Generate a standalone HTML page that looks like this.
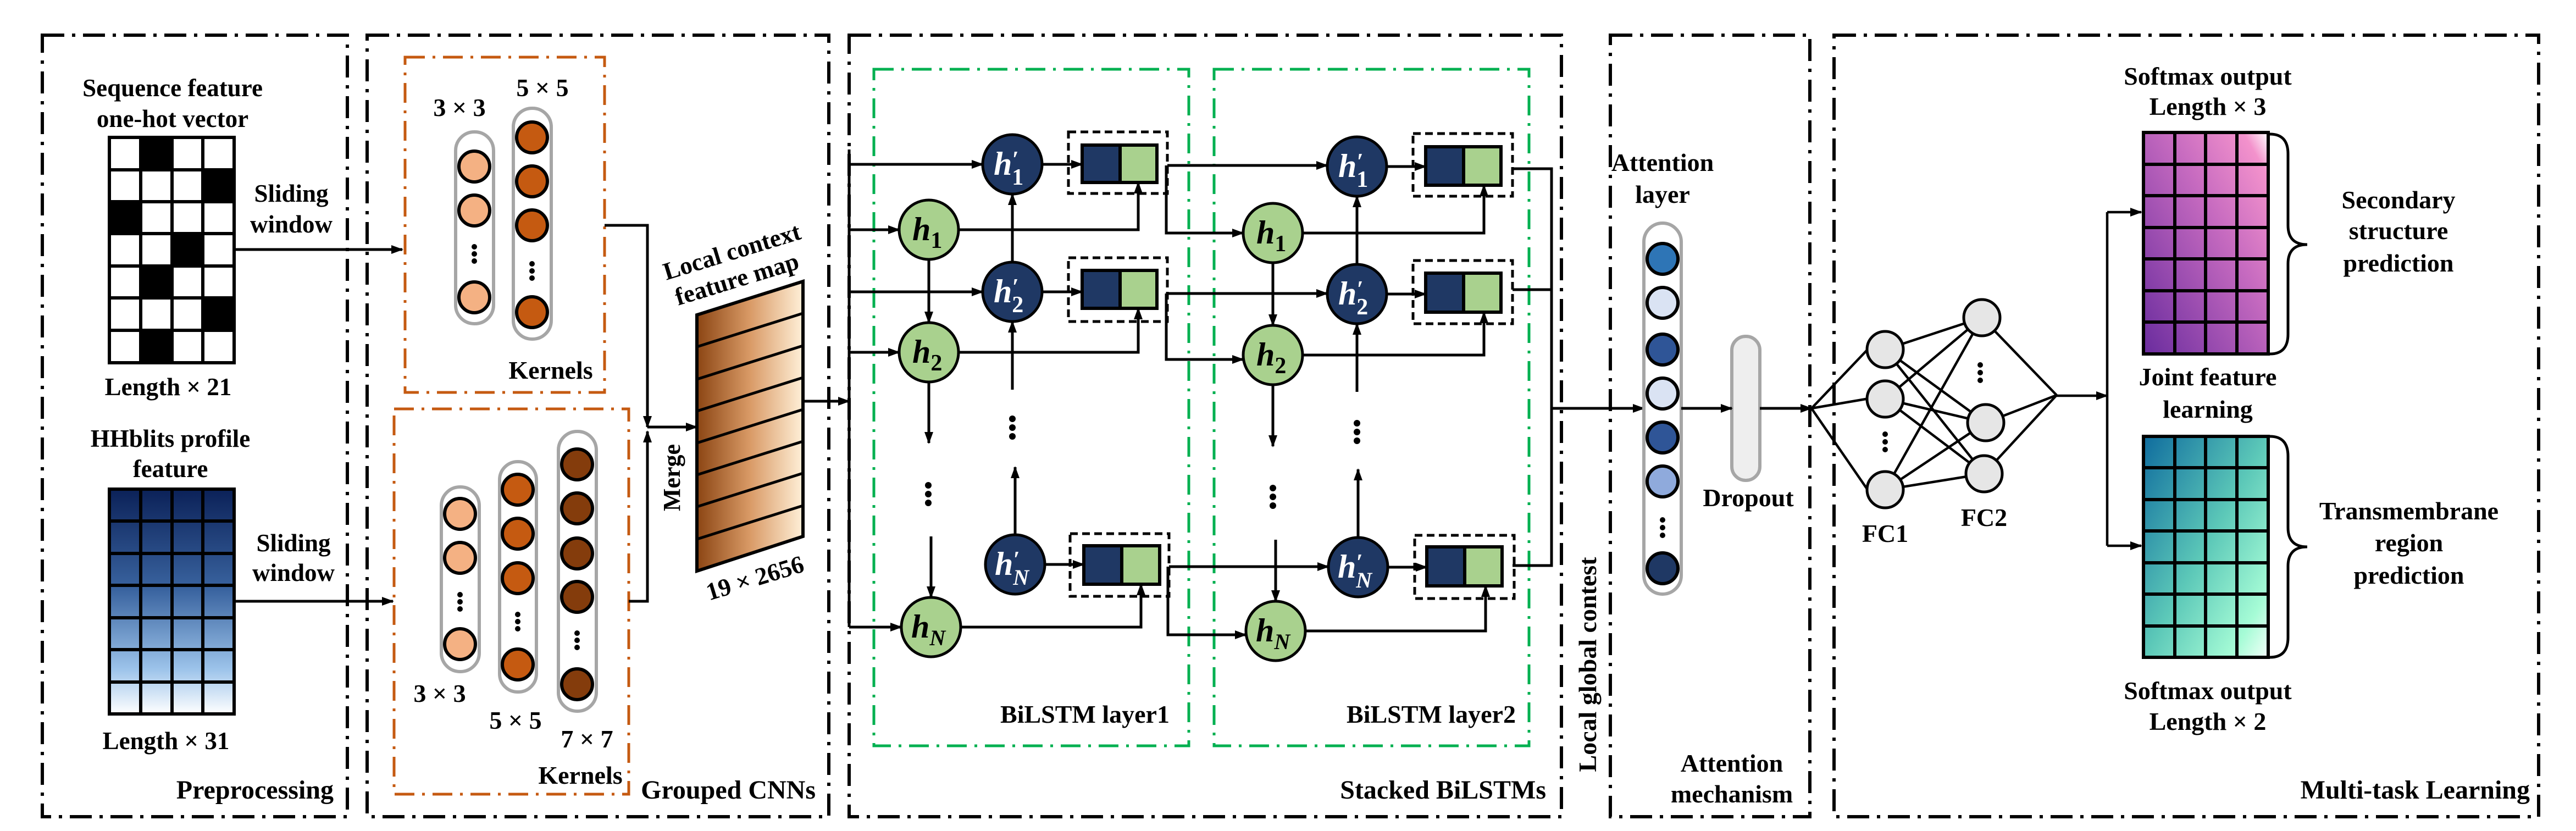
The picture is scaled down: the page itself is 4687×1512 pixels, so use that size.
<!DOCTYPE html>
<html><head><meta charset="utf-8"><style>
html,body{margin:0;padding:0;background:#fff;}
svg{display:block;}
text{font-family:"Liberation Serif",serif;font-weight:bold;fill:#000;}
</style></head><body>
<svg width="4687" height="1512" viewBox="0 0 4687 1512" xmlns="http://www.w3.org/2000/svg">
<defs>
<marker id="ab" markerWidth="22" markerHeight="22" refX="20" refY="11" orient="auto" markerUnits="userSpaceOnUse" viewBox="0 0 22 22">
<path d="M0,3 L22,11 L0,19 z" fill="#000"/></marker>
<linearGradient id="hh" x1="0" y1="0" x2="0" y2="1">
<stop offset="0" stop-color="#0b2158"/><stop offset="0.45" stop-color="#3a64a0"/><stop offset="0.8" stop-color="#9cc3ea"/><stop offset="1" stop-color="#ffffff"/></linearGradient>
<linearGradient id="fm" x1="0" y1="0" x2="1" y2="0">
<stop offset="0" stop-color="#8b4513"/><stop offset="0.5" stop-color="#d99a66"/><stop offset="1" stop-color="#fff0d8"/></linearGradient>
<linearGradient id="pu" x1="0" y1="1" x2="1" y2="0">
<stop offset="0" stop-color="#6a2c9e"/><stop offset="0.6" stop-color="#c76bc0"/><stop offset="0.9" stop-color="#f392cc"/><stop offset="1" stop-color="#fff"/></linearGradient>
<linearGradient id="te" x1="0" y1="0" x2="1" y2="1">
<stop offset="0" stop-color="#0f6c9e"/><stop offset="0.5" stop-color="#5cc8b8"/><stop offset="0.85" stop-color="#a6fcd6"/><stop offset="1" stop-color="#f2fff8"/></linearGradient>
</defs>

<g fill="none" stroke="#000" stroke-width="6" stroke-dasharray="40,14,6,14">
<rect x="77" y="64" width="555" height="1422"/>
<rect x="668" y="64" width="840" height="1422"/>
<rect x="1545" y="64" width="1296" height="1422"/>
<rect x="2930" y="64" width="363" height="1422"/>
<rect x="3337" y="64" width="1282" height="1422"/>
</g>

<g font-size="45" text-anchor="middle">
<text x="314" y="175">Sequence feature</text>
<text x="314" y="231">one-hot vector</text>
<text x="306" y="719">Length × 21</text>
<text x="310" y="813">HHblits profile</text>
<text x="310" y="868">feature</text>
<text x="302" y="1363">Length × 31</text>
<text x="530" y="367">Sliding</text>
<text x="530" y="423">window</text>
<text x="534" y="1003">Sliding</text>
<text x="534" y="1057">window</text>
</g>
<text x="607" y="1453" font-size="48" text-anchor="end">Preprocessing</text>
<g stroke="#000" stroke-width="6">
<rect x="199" y="250" width="227" height="410" fill="#fff"/>
<g fill="#000" stroke="none">
<rect x="256" y="250" width="57" height="59"/><rect x="369" y="309" width="57" height="58"/>
<rect x="199" y="367" width="57" height="58"/><rect x="313" y="425" width="56" height="59"/>
<rect x="256" y="484" width="57" height="58"/><rect x="369" y="542" width="57" height="59"/>
<rect x="256" y="601" width="57" height="59"/></g>
<path d="M256,250V660M313,250V660M369,250V660M199,309H426M199,367H426M199,425H426M199,484H426M199,542H426M199,601H426" fill="none"/>
<rect x="199" y="890" width="227" height="409" fill="url(#hh)"/>
<path d="M256,890V1299M313,890V1299M369,890V1299M199,948H426M199,1007H426M199,1065H426M199,1124H426M199,1182H426M199,1241H426" fill="none"/>
</g>
<g stroke="#000" stroke-width="5" fill="none">
<line x1="426" y1="454" x2="732" y2="454" marker-end="url(#ab)"/>
<line x1="426" y1="1094" x2="715" y2="1094" marker-end="url(#ab)"/>
</g>

<g fill="none" stroke="#c55a11" stroke-width="5" stroke-dasharray="36,14,5,14">
<rect x="737" y="104" width="363" height="610"/>
<rect x="717" y="744" width="427" height="701"/>
</g>
<g stroke="#a6a6a6" stroke-width="6" fill="#fff">
<rect x="829" y="240" width="69" height="349" rx="34"/>
<rect x="934" y="197" width="69" height="420" rx="34"/>
<rect x="803" y="886" width="69" height="336" rx="34"/>
<rect x="909" y="840" width="67" height="419" rx="33"/>
<rect x="1016" y="785" width="69" height="509" rx="34"/>
</g>
<g stroke="#000" stroke-width="6">
<g fill="#f4b183"><circle cx="863" cy="303" r="28"/><circle cx="863" cy="383" r="28"/><circle cx="863" cy="541" r="28"/>
<circle cx="837" cy="935" r="28"/><circle cx="837" cy="1015" r="28"/><circle cx="837" cy="1172" r="28"/></g>
<g fill="#c55a11"><circle cx="968" cy="250" r="28"/><circle cx="968" cy="330" r="28"/><circle cx="968" cy="410" r="28"/><circle cx="968" cy="568" r="28"/>
<circle cx="942" cy="891" r="28"/><circle cx="942" cy="971" r="28"/><circle cx="942" cy="1052" r="28"/><circle cx="942" cy="1209" r="28"/></g>
<g fill="#843c0c"><circle cx="1050" cy="845" r="28"/><circle cx="1050" cy="925" r="28"/><circle cx="1050" cy="1007" r="28"/><circle cx="1050" cy="1086" r="28"/><circle cx="1050" cy="1245" r="28"/></g>
</g>
<g fill="#000">
<circle cx="863" cy="449" r="5"/><circle cx="863" cy="462" r="5"/><circle cx="863" cy="475" r="5"/>
<circle cx="968" cy="480" r="5"/><circle cx="968" cy="493" r="5"/><circle cx="968" cy="506" r="5"/>
<circle cx="837" cy="1082" r="5"/><circle cx="837" cy="1095" r="5"/><circle cx="837" cy="1108" r="5"/>
<circle cx="942" cy="1118" r="5"/><circle cx="942" cy="1131" r="5"/><circle cx="942" cy="1144" r="5"/>
<circle cx="1050" cy="1152" r="5"/><circle cx="1050" cy="1165" r="5"/><circle cx="1050" cy="1178" r="5"/>
</g>
<g font-size="46" text-anchor="middle">
<text x="836" y="211">3 × 3</text><text x="987" y="175">5 × 5</text>
<text x="1002" y="689">Kernels</text>
<text x="800" y="1277">3 × 3</text><text x="938" y="1326">5 × 5</text><text x="1068" y="1360">7 × 7</text>
<text x="1056" y="1426">Kernels</text>
</g>
<g stroke="#000" stroke-width="5" fill="none">
<polyline points="1100,410 1178,410 1178,777" marker-end="url(#ab)"/>
<polyline points="1144,1094 1178,1094 1178,785" marker-end="url(#ab)"/>
<line x1="1178" y1="777" x2="1268" y2="777" marker-end="url(#ab)"/>
</g>
<text transform="translate(1237,869) rotate(-90)" font-size="44" text-anchor="middle">Merge</text>
<polygon points="1268,573 1461,512 1461,976 1268,1039" fill="url(#fm)" stroke="#000" stroke-width="6"/>
<g stroke="#000" stroke-width="5">
<line x1="1268" y1="631" x2="1461" y2="570"/><line x1="1268" y1="690" x2="1461" y2="629"/>
<line x1="1268" y1="748" x2="1461" y2="687"/><line x1="1268" y1="806" x2="1461" y2="745"/>
<line x1="1268" y1="864" x2="1461" y2="803"/><line x1="1268" y1="922" x2="1461" y2="861"/>
<line x1="1268" y1="981" x2="1461" y2="920"/></g>
<g font-size="45" text-anchor="middle">
<text transform="translate(1336,472) rotate(-17)">Local context</text>
<text transform="translate(1345,522) rotate(-17)">feature map</text>
<text transform="translate(1378,1066) rotate(-17)">19 × 2656</text>
</g>
<text x="1484" y="1453" font-size="48" text-anchor="end">Grouped CNNs</text>
<line x1="1461" y1="730" x2="1545" y2="730" stroke="#000" stroke-width="5" marker-end="url(#ab)"/>

<g fill="none" stroke="#00b050" stroke-width="5" stroke-dasharray="36,14,5,14">
<rect x="1590" y="126" width="573" height="1231"/>
<rect x="2209" y="126" width="573" height="1231"/>
</g>
<g stroke="#000" stroke-width="5" fill="none">
<line x1="1545" y1="272" x2="1545" y2="1141"/>
<line x1="1545" y1="299" x2="1788" y2="299" marker-end="url(#ab)"/>
<line x1="1545" y1="418" x2="1636" y2="418" marker-end="url(#ab)"/>
<line x1="1545" y1="531" x2="1788" y2="531" marker-end="url(#ab)"/>
<line x1="1545" y1="641" x2="1636" y2="641" marker-end="url(#ab)"/>
<line x1="1545" y1="1141" x2="1640" y2="1141" marker-end="url(#ab)"/>
<line x1="1690" y1="472" x2="1690" y2="587" marker-end="url(#ab)"/>
<line x1="1690" y1="695" x2="1690" y2="806" marker-end="url(#ab)"/>
<line x1="1694" y1="976" x2="1694" y2="1087" marker-end="url(#ab)"/>
<line x1="1842" y1="477" x2="1842" y2="353" marker-end="url(#ab)"/>
<line x1="1842" y1="709" x2="1842" y2="585" marker-end="url(#ab)"/>
<line x1="1847" y1="973" x2="1847" y2="850" marker-end="url(#ab)"/>
<line x1="1896" y1="299" x2="1969" y2="299" marker-end="url(#ab)"/>
<line x1="1896" y1="531" x2="1969" y2="531" marker-end="url(#ab)"/>
<line x1="1901" y1="1027" x2="1972" y2="1027" marker-end="url(#ab)"/>
<polyline points="1744,418 2071,418 2071,332" marker-end="url(#ab)"/>
<polyline points="1744,641 2071,641 2071,561" marker-end="url(#ab)"/>
<polyline points="1748,1141 2076,1141 2076,1063" marker-end="url(#ab)"/>
<line x1="2124" y1="301" x2="2415" y2="301" marker-end="url(#ab)"/>
<polyline points="2122,301 2122,424 2262,424" marker-end="url(#ab)"/>
<line x1="2124" y1="534" x2="2415" y2="534" marker-end="url(#ab)"/>
<polyline points="2122,534 2122,654 2262,654" marker-end="url(#ab)"/>
<line x1="2127" y1="1031" x2="2417" y2="1031" marker-end="url(#ab)"/>
<polyline points="2125,1031 2125,1155 2267,1155" marker-end="url(#ab)"/>
<line x1="2316" y1="478" x2="2316" y2="592" marker-end="url(#ab)"/>
<line x1="2316" y1="700" x2="2316" y2="812" marker-end="url(#ab)"/>
<line x1="2321" y1="982" x2="2321" y2="1094" marker-end="url(#ab)"/>
<line x1="2469" y1="481" x2="2469" y2="357" marker-end="url(#ab)"/>
<line x1="2469" y1="713" x2="2469" y2="589" marker-end="url(#ab)"/>
<line x1="2471" y1="978" x2="2471" y2="854" marker-end="url(#ab)"/>
<line x1="2523" y1="303" x2="2594" y2="303" marker-end="url(#ab)"/>
<line x1="2523" y1="535" x2="2594" y2="535" marker-end="url(#ab)"/>
<line x1="2525" y1="1032" x2="2596" y2="1032" marker-end="url(#ab)"/>
<polyline points="2370,424 2700,424 2700,337" marker-end="url(#ab)"/>
<polyline points="2370,646 2700,646 2700,568" marker-end="url(#ab)"/>
<polyline points="2375,1148 2703,1148 2703,1066" marker-end="url(#ab)"/>
<polyline points="2752,307 2823,307 2823,1029 2752,1029"/>
<line x1="2752" y1="527" x2="2823" y2="527"/>
<line x1="2823" y1="743" x2="2991" y2="743" marker-end="url(#ab)"/>
</g>
<g fill="none" stroke="#000" stroke-width="5" stroke-dasharray="14,8">
<rect x="1944" y="240" width="180" height="112"/><rect x="1944" y="469" width="180" height="116"/><rect x="1947" y="971" width="180" height="114"/>
<rect x="2571" y="243" width="181" height="114"/><rect x="2571" y="474" width="181" height="115"/><rect x="2574" y="974" width="181" height="115"/>
</g>
<g stroke="#000" stroke-width="6">
<rect x="1969" y="264" width="69" height="68" fill="#1f3864"/><rect x="2038" y="264" width="67" height="68" fill="#a9d18e"/>
<rect x="1969" y="492" width="69" height="69" fill="#1f3864"/><rect x="2038" y="492" width="67" height="69" fill="#a9d18e"/>
<rect x="1972" y="993" width="69" height="70" fill="#1f3864"/><rect x="2041" y="993" width="69" height="70" fill="#a9d18e"/>
<rect x="2594" y="267" width="69" height="70" fill="#1f3864"/><rect x="2663" y="267" width="68" height="70" fill="#a9d18e"/>
<rect x="2594" y="497" width="69" height="71" fill="#1f3864"/><rect x="2663" y="497" width="68" height="71" fill="#a9d18e"/>
<rect x="2596" y="995" width="69" height="71" fill="#1f3864"/><rect x="2665" y="995" width="68" height="71" fill="#a9d18e"/>
</g>
<g stroke="#000" stroke-width="5">
<g fill="#1f3864">
<circle cx="1842" cy="299" r="54"/><circle cx="1842" cy="531" r="54"/><circle cx="1847" cy="1027" r="54"/>
<circle cx="2469" cy="303" r="54"/><circle cx="2469" cy="535" r="54"/><circle cx="2471" cy="1032" r="54"/></g>
<g fill="#a9d18e">
<circle cx="1690" cy="418" r="54"/><circle cx="1690" cy="641" r="54"/><circle cx="1694" cy="1141" r="54"/>
<circle cx="2316" cy="424" r="54"/><circle cx="2316" cy="646" r="54"/><circle cx="2321" cy="1148" r="54"/></g>
</g>
<g font-size="60" font-style="italic">
<text x="1808" y="318" style="fill:#fff">h<tspan dy="-14" font-size="42">′</tspan><tspan dx="-12" dy="32" font-size="42" font-style="normal">1</tspan></text>
<text x="1808" y="550" style="fill:#fff">h<tspan dy="-14" font-size="42">′</tspan><tspan dx="-12" dy="32" font-size="42" font-style="normal">2</tspan></text>
<text x="1810" y="1046" style="fill:#fff">h<tspan dy="-14" font-size="42">′</tspan><tspan dx="-12" dy="32" font-size="40">N</tspan></text>
<text x="2435" y="322" style="fill:#fff">h<tspan dy="-14" font-size="42">′</tspan><tspan dx="-12" dy="32" font-size="42" font-style="normal">1</tspan></text>
<text x="2435" y="554" style="fill:#fff">h<tspan dy="-14" font-size="42">′</tspan><tspan dx="-12" dy="32" font-size="42" font-style="normal">2</tspan></text>
<text x="2434" y="1051" style="fill:#fff">h<tspan dy="-14" font-size="42">′</tspan><tspan dx="-12" dy="32" font-size="40">N</tspan></text>
<text x="1660" y="437">h<tspan dy="14" font-size="42" font-style="normal">1</tspan></text>
<text x="1660" y="660">h<tspan dy="14" font-size="42" font-style="normal">2</tspan></text>
<text x="1658" y="1160">h<tspan dy="14" font-size="40">N</tspan></text>
<text x="2286" y="443">h<tspan dy="14" font-size="42" font-style="normal">1</tspan></text>
<text x="2286" y="665">h<tspan dy="14" font-size="42" font-style="normal">2</tspan></text>
<text x="2285" y="1167">h<tspan dy="14" font-size="40">N</tspan></text>
</g>
<g fill="#000">
<circle cx="1689" cy="883" r="6"/><circle cx="1689" cy="899" r="6"/><circle cx="1689" cy="915" r="6"/>
<circle cx="1842" cy="762" r="6"/><circle cx="1842" cy="778" r="6"/><circle cx="1842" cy="794" r="6"/>
<circle cx="2316" cy="888" r="6"/><circle cx="2316" cy="904" r="6"/><circle cx="2316" cy="920" r="6"/>
<circle cx="2469" cy="770" r="6"/><circle cx="2469" cy="786" r="6"/><circle cx="2469" cy="802" r="6"/>
</g>
<g font-size="46" text-anchor="middle">
<text x="1974" y="1315">BiLSTM layer1</text>
<text x="2604" y="1315">BiLSTM layer2</text>
</g>
<text x="2813" y="1453" font-size="48" text-anchor="end">Stacked BiLSTMs</text>
<text transform="translate(2904,1209) rotate(-90)" font-size="46" text-anchor="middle">Local global contest</text>

<g font-size="46" text-anchor="middle">
<text x="3025" y="311">Attention</text><text x="3025" y="369">layer</text>
<text x="3181" y="921">Dropout</text>
<text x="3151" y="1404">Attention</text><text x="3151" y="1460">mechanism</text>
</g>
<rect x="2991" y="406" width="68" height="675" rx="34" fill="#fff" stroke="#a6a6a6" stroke-width="6"/>
<g stroke="#000" stroke-width="6">
<circle cx="3025" cy="471" r="28" fill="#2e75b6"/><circle cx="3025" cy="551" r="28" fill="#dae3f3"/>
<circle cx="3025" cy="636" r="28" fill="#2f5597"/><circle cx="3025" cy="716" r="28" fill="#dae3f3"/>
<circle cx="3025" cy="796" r="28" fill="#2f5597"/><circle cx="3025" cy="876" r="28" fill="#8faadc"/>
<circle cx="3025" cy="1034" r="28" fill="#1f3864"/></g>
<g fill="#000"><circle cx="3025" cy="946" r="5"/><circle cx="3025" cy="960" r="5"/><circle cx="3025" cy="974" r="5"/></g>
<rect x="3151" y="612" width="51" height="262" rx="25" fill="#eeeeee" stroke="#a6a6a6" stroke-width="6"/>
<g stroke="#000" stroke-width="5" fill="none">
<line x1="3059" y1="743" x2="3151" y2="743" marker-end="url(#ab)"/>
<line x1="3202" y1="743" x2="3296" y2="743" marker-end="url(#ab)"/>
</g>

<g stroke="#000" stroke-width="4.5" fill="none">
<line x1="3296" y1="743" x2="3398" y2="636"/><line x1="3296" y1="743" x2="3395" y2="726"/><line x1="3296" y1="743" x2="3398" y2="891"/>
<line x1="3430" y1="636" x2="3606" y2="578"/><line x1="3430" y1="636" x2="3613" y2="769"/><line x1="3430" y1="636" x2="3610" y2="862"/>
<line x1="3430" y1="726" x2="3606" y2="578"/><line x1="3430" y1="726" x2="3613" y2="769"/><line x1="3430" y1="726" x2="3610" y2="862"/>
<line x1="3430" y1="891" x2="3606" y2="578"/><line x1="3430" y1="891" x2="3613" y2="769"/><line x1="3430" y1="891" x2="3610" y2="862"/>
<line x1="3606" y1="578" x2="3742" y2="719"/><line x1="3613" y1="769" x2="3742" y2="719"/><line x1="3610" y1="862" x2="3742" y2="719"/>
<line x1="3742" y1="720" x2="3834" y2="720" marker-end="url(#ab)"/>
<line x1="3834" y1="386" x2="3834" y2="993"/>
<line x1="3834" y1="386" x2="3896" y2="386" marker-end="url(#ab)"/>
<line x1="3834" y1="993" x2="3896" y2="993" marker-end="url(#ab)"/>
</g>
<g fill="#e6e6e6" stroke="#000" stroke-width="5">
<circle cx="3430" cy="636" r="33"/><circle cx="3430" cy="726" r="33"/><circle cx="3430" cy="891" r="33"/>
<circle cx="3606" cy="578" r="33"/><circle cx="3613" cy="769" r="33"/><circle cx="3610" cy="862" r="33"/>
</g>
<g fill="#000"><circle cx="3430" cy="790" r="5"/><circle cx="3430" cy="804" r="5"/><circle cx="3430" cy="818" r="5"/>
<circle cx="3603" cy="664" r="5"/><circle cx="3603" cy="678" r="5"/><circle cx="3603" cy="692" r="5"/></g>
<g font-size="46" text-anchor="middle">
<text x="3430" y="986">FC1</text><text x="3610" y="957">FC2</text>
<text x="4017" y="154">Softmax output</text><text x="4017" y="209">Length × 3</text>
<text x="4017" y="701">Joint feature</text><text x="4017" y="760">learning</text>
<text x="4017" y="1272">Softmax output</text><text x="4017" y="1328">Length × 2</text>
<text x="4364" y="379">Secondary</text><text x="4364" y="435">structure</text><text x="4364" y="494">prediction</text>
<text x="4383" y="945">Transmembrane</text><text x="4383" y="1003">region</text><text x="4383" y="1062">prediction</text>
</g>
<text x="4603" y="1453" font-size="48" text-anchor="end">Multi-task Learning</text>
<g stroke="#000" stroke-width="6">
<rect x="3900" y="241" width="227" height="403" fill="url(#pu)"/>
<path d="M3957,241V644M4013,241V644M4070,241V644M3900,299H4127M3900,356H4127M3900,414H4127M3900,471H4127M3900,529H4127M3900,586H4127" fill="none"/>
<rect x="3900" y="794" width="227" height="402" fill="url(#te)"/>
<path d="M3957,794V1196M4013,794V1196M4070,794V1196M3900,851H4127M3900,909H4127M3900,966H4127M3900,1024H4127M3900,1081H4127M3900,1139H4127" fill="none"/>
</g>
<g stroke="#000" stroke-width="5" fill="none">
<path d="M4130,244 Q4163,244 4163,280 L4163,410 Q4163,445 4198,445 Q4163,445 4163,480 L4163,608 Q4163,644 4130,644"/>
<path d="M4130,794 Q4163,794 4163,830 L4163,960 Q4163,995 4198,995 Q4163,995 4163,1030 L4163,1160 Q4163,1196 4130,1196"/>
</g>
</svg>
</body></html>
